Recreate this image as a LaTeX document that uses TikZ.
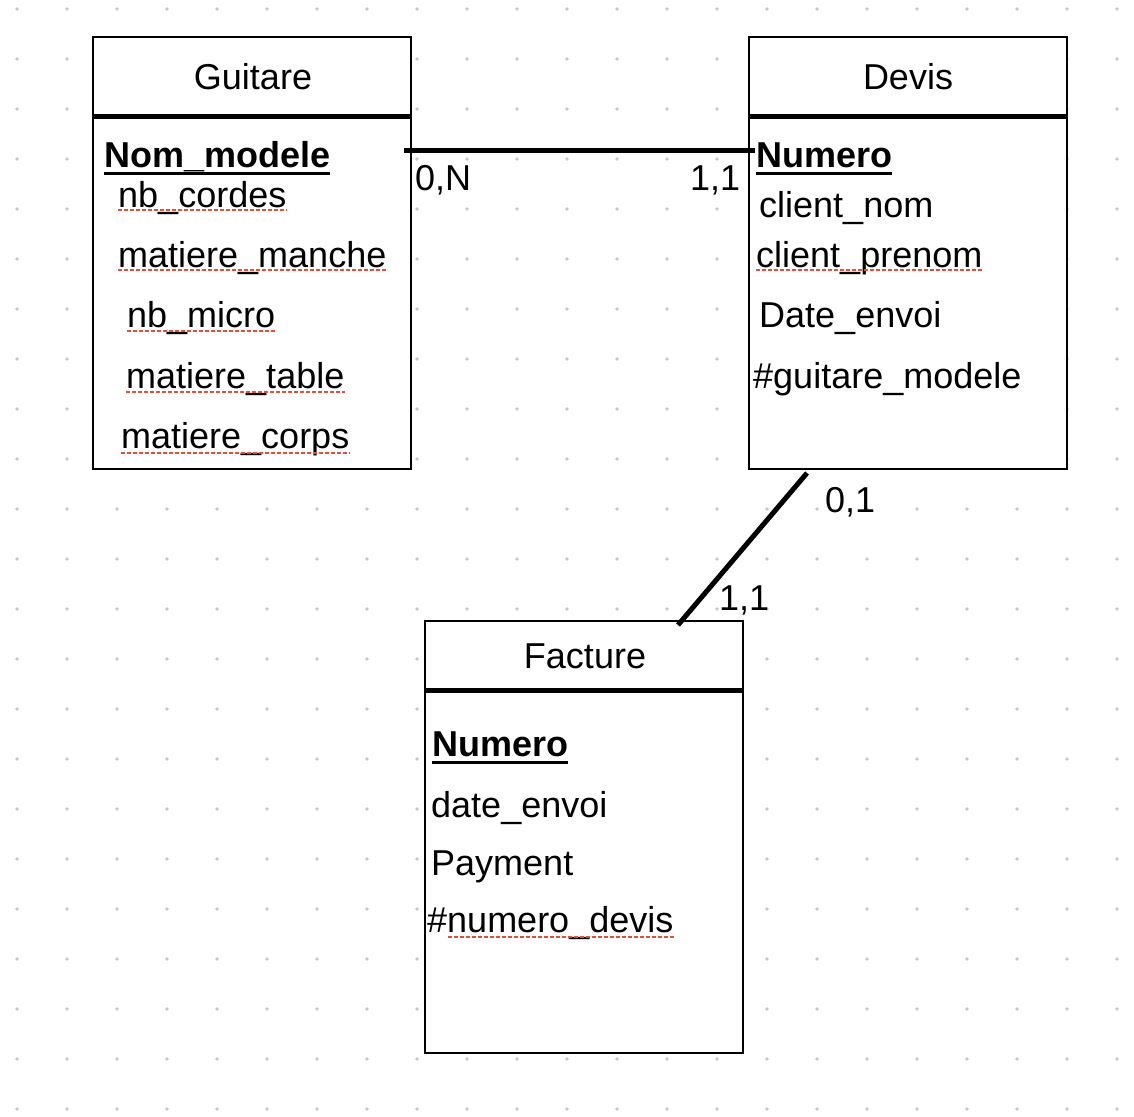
\documentclass[tikz,border=0pt]{standalone}
\usepackage{fontspec}
\setmainfont{Liberation Sans}
\usetikzlibrary{calc}
\definecolor{dotgray}{RGB}{200,200,200}
\definecolor{spellred}{RGB}{232,76,61}
\begin{document}
\begin{tikzpicture}[x=1pt,y=-1pt,
  entity/.style={draw,line width=2pt,fill=white,minimum width=318pt,minimum height=432pt,anchor=north west,inner sep=0pt,outer sep=0pt},
  txt/.style={anchor=base west,inner sep=0pt,font=\fontsize{36}{43}\selectfont},
  ttl/.style={anchor=base,inner sep=0pt,font=\fontsize{36}{43}\selectfont},
  keyattr/.style={anchor=base west,inner sep=0pt,font=\fontsize{36}{43}\selectfont\bfseries},
  sepline/.style={line width=5pt},
  rel/.style={line width=5pt},
  keyline/.style={line width=3pt},
  spell/.style={spellred,line width=2.6pt,dash pattern=on 3.5pt off 2.5pt}]
\useasboundingbox (0,0) rectangle (1134,1116);
\fill[white] (0,0) rectangle (1134,1116);
% dot grid
\foreach \i in {0,...,22}{
  \foreach \j in {0,...,22}{
    \fill[dotgray] (17+50*\i, 9+50*\j) circle (1.8);
  }
}
% entities
\node[entity] (guitare) at (93,37) {};
\node[entity] (devis) at (749,37) {};
\node[entity] (facture) at (425,621) {};
% header separators
\draw[sepline] ($(guitare.north west)+(0,79)$) -- ($(guitare.north east)+(0,79)$);
\draw[sepline] ($(devis.north west)+(0,79)$) -- ($(devis.north east)+(0,79)$);
\draw[sepline] ($(facture.north west)+(0,69)$) -- ($(facture.north east)+(0,69)$);
% titles
\node[ttl] (tg) at (253,89) {Guitare};
\node[ttl] (td) at (908,89) {Devis};
\node[ttl] (tf) at (585,668) {Facture};
% Guitare attributes
\node[keyattr] (g0) at (104,167) {Nom\_modele};
\node[txt] (g1) at (118,207) {nb\_cordes};
\node[txt] (g2) at (118,267) {matiere\_manche};
\node[txt] (g3) at (127,327) {nb\_micro};
\node[txt] (g4) at (126,388) {matiere\_table};
\node[txt] (g5) at (121,448) {matiere\_corps};
% Devis attributes
\node[keyattr] (d0) at (756,167) {Numero};
\node[txt] (d1) at (759,217) {client\_nom};
\node[txt] (d2) at (756,267) {client\_prenom};
\node[txt] (d3) at (759,327) {Date\_envoi};
\node[txt] (d4) at (753,388) {\#guitare\_modele};
% Facture attributes
\node[keyattr] (f0) at (432,756) {Numero};
\node[txt] (f1) at (431,817) {date\_envoi};
\node[txt] (f2) at (431,875) {Payment};
\node[txt] (f3) at (427,932) {\#numero\_devis};
% key underlines
\draw[keyline] ($(g0.base west)+(0,6)$) -- ($(g0.base east)+(0,6)$);
\draw[keyline] ($(d0.base west)+(0,6)$) -- ($(d0.base east)+(0,6)$);
\draw[keyline] ($(f0.base west)+(0,6)$) -- ($(f0.base east)+(0,6)$);
% spell-check marks
\draw[spell] ($(g1.base west)+(0,3)$) -- ($(g1.base east)+(0,3)$);
\draw[spell] ($(g2.base west)+(0,3)$) -- ($(g2.base east)+(0,3)$);
\draw[spell] ($(g3.base west)+(0,4)$) -- ($(g3.base east)+(0,4)$);
\draw[spell] ($(g4.base west)+(0,4)$) -- ($(g4.base east)+(0,4)$);
\draw[spell] ($(g5.base west)+(0,5)$) -- ($(g5.base east)+(0,5)$);
\draw[spell] ($(d2.base west)+(0,3)$) -- ($(d2.base east)+(0,3)$);
\draw[spell] ($(f3.base west)+(21,5)$) -- ($(f3.base east)+(0,5)$);
% relationships
\draw[rel] ($(guitare.north east)+(-7,113)$) -- ($(devis.north west)+(6,113)$);
\draw[rel] ($(devis.south west)+(58,4)$) -- ($(facture.north west)+(253,4)$);
% cardinalities
\node[txt] (c1) at (415,190) {0,N};
\node[txt] (c2) at (690,190) {1,1};
\node[txt] (c3) at (825,512) {0,1};
\node[txt] (c4) at (719,610) {1,1};
\end{tikzpicture}
\end{document}
